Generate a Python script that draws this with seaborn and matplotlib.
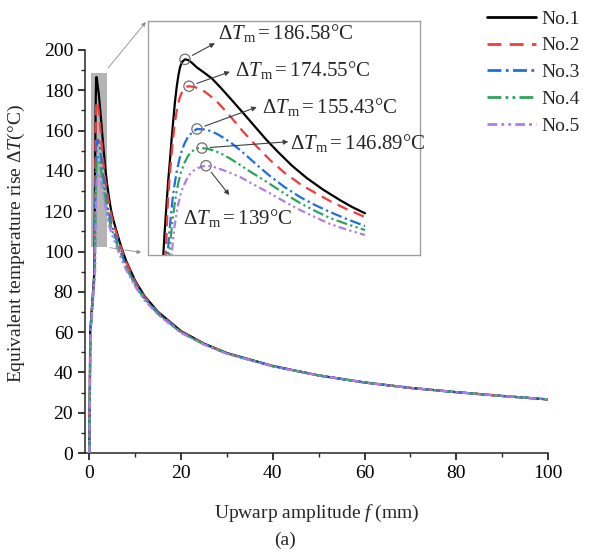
import matplotlib
matplotlib.use("Agg")
import matplotlib.pyplot as plt
from matplotlib.patches import Rectangle, ConnectionPatch
from matplotlib.ticker import MultipleLocator
import pandas as pd
import seaborn as sns

# ---- data: equivalent temperature rise (°C) vs upwarp amplitude f (mm) ----
series = ["No.1", "No.2", "No.3", "No.4", "No.5"]

# values beyond f = 5 mm, where the five cases nearly coincide
f_tail = [6, 7, 8, 10, 12, 15, 20, 25, 30, 40, 50, 60, 70, 80, 90, 100]

f_no1 = [0, 0.20, 1.10, 1.142, 1.17, 1.203, 1.235, 1.270, 1.30, 1.333, 1.365, 1.398, 1.43, 1.461,
         1.50, 1.557, 1.62, 1.69, 1.78, 1.90, 2.067, 2.25, 2.449, 2.67, 2.894, 3.11, 3.339, 3.6,
         3.881, 4.2, 4.517, 4.75, 4.995]
t_no1 = [0, 60, 90, 99.06, 110.0, 121.42, 132.0, 141.55, 150.5, 159.43, 167.5, 174.19, 179.3, 183.0,
         185.4, 186.58, 186.2, 185.0, 183.0, 181.0, 178.08, 173.6, 168.38, 162.5, 156.44, 150.6, 145.0,
         139.0, 133.5, 128.2, 123.6, 120.5, 117.71]
t_no1_tail = [109.5, 102.0, 95.5, 85.5, 78.0, 70.0, 60.5, 54.3, 49.6, 43.2, 38.5, 35.0, 32.3, 30.2, 28.3, 26.6]

f_no2 = [0, 0.22, 1.15, 1.188, 1.21, 1.232, 1.27, 1.308, 1.345, 1.385, 1.42, 1.461, 1.50, 1.538,
         1.585, 1.633, 1.74, 1.843, 1.94, 2.034, 2.15, 2.258, 2.45, 2.640, 2.91, 3.180, 3.46, 3.753,
         4.04, 4.326, 4.66, 4.995]
t_no2 = [0, 60, 90, 99.06, 112.0, 123.66, 136.0, 146.02, 154.8, 161.67, 166.3, 169.72, 171.9, 173.30,
         174.2, 174.55, 174.2, 173.30, 172.0, 170.3, 168.0, 165.38, 160.3, 154.96, 148.0, 141.55, 135.8,
         130.81, 126.9, 123.2, 119.4, 116.06]
t_no2_tail = [108.4, 101.1, 94.8, 85.0, 77.6, 69.7, 60.3, 54.2, 49.5, 43.1, 38.5, 35.0, 32.3, 30.2, 28.3, 26.6]

f_no3 = [0, 0.24, 1.19, 1.226, 1.245, 1.270, 1.30, 1.328, 1.365, 1.404, 1.45, 1.499, 1.555, 1.614,
         1.70, 1.786, 1.91, 2.034, 2.16, 2.283, 2.45, 2.607, 2.77, 2.926, 3.18, 3.46, 3.753, 4.04,
         4.326, 4.66, 4.995]
t_no3 = [0, 60, 90, 99.06, 105.5, 112.48, 119.5, 125.89, 131.8, 137.07, 141.9, 146.02, 149.3, 151.83,
         154.1, 155.43, 155.25, 154.6, 153.3, 151.6, 149.0, 146.0, 142.7, 139.4, 134.39, 129.4, 125.0,
         121.4, 118.29, 115.0, 112.03]
t_no3_tail = [105.2, 98.8, 93.0, 83.9, 76.8, 69.2, 60.0, 54.0, 49.4, 43.1, 38.5, 35.0, 32.3, 30.2, 28.3, 26.6]

f_no4 = [0, 0.26, 1.22, 1.257, 1.28, 1.308, 1.345, 1.385, 1.43, 1.480, 1.545, 1.614, 1.68, 1.748,
         1.815, 1.881, 2.0, 2.13, 2.27, 2.416, 2.6, 2.798, 2.99, 3.18, 3.46, 3.753, 4.04, 4.326,
         4.66, 4.995]
t_no4 = [0, 60, 90, 99.06, 105.5, 112.48, 119.5, 125.89, 131.5, 136.18, 140.2, 143.34, 145.2, 146.4,
         146.85, 146.89, 146.5, 145.6, 144.1, 142.2, 139.5, 136.4, 133.6, 130.8, 126.5, 122.32, 118.8,
         115.61, 112.8, 110.24]
t_no4_tail = [103.8, 97.6, 92.1, 83.3, 76.4, 68.9, 59.8, 53.9, 49.3, 43.0, 38.5, 35.0, 32.3, 30.2, 28.3, 26.6]

f_no5 = [0, 0.28, 1.26, 1.303, 1.325, 1.347, 1.385, 1.423, 1.47, 1.519, 1.585, 1.652, 1.73, 1.805,
         1.88, 1.958, 2.09, 2.225, 2.41, 2.607, 2.89, 3.18, 3.46, 3.753, 4.04, 4.326, 4.66, 4.995]
t_no5 = [0, 60, 90, 99.06, 104.8, 110.24, 116.2, 121.42, 125.9, 129.47, 132.7, 135.29, 137.0, 137.97,
         138.6, 139.00, 138.6, 137.52, 135.9, 133.94, 130.3, 126.66, 122.9, 119.19, 116.0, 112.93,
         110.3, 108.01]
t_no5_tail = [102.0, 96.2, 91.0, 82.6, 75.9, 68.6, 59.6, 53.8, 49.2, 43.0, 38.5, 35.0, 32.3, 30.2, 28.3, 26.6]

peak_f = [1.557, 1.633, 1.786, 1.881, 1.958]
peak_t = [186.58, 174.55, 155.43, 146.89, 139.00]
peak_text = ["186.58", "174.55", "155.43", "146.89", "139"]

frames = []
for name, fx, ty, tt in zip(series,
                            [f_no1, f_no2, f_no3, f_no4, f_no5],
                            [t_no1, t_no2, t_no3, t_no4, t_no5],
                            [t_no1_tail, t_no2_tail, t_no3_tail, t_no4_tail, t_no5_tail]):
    frames.append(pd.DataFrame({"f": fx + f_tail, "T": ty + tt, "series": name}))
df = pd.concat(frames, ignore_index=True)

palette = {"No.1": "#000000", "No.2": "#f03c3c", "No.3": "#1f6fe0",
           "No.4": "#2ca55a", "No.5": "#b07ce8"}
dashes = {"No.1": "", "No.2": (5, 3), "No.3": (5, 1.6, 1, 1.6),
          "No.4": (5, 1.5, 1, 1.5, 1, 1.5), "No.5": (3.5, 1.5, 1, 1.5, 1, 1.5)}

# ---- style ----
sns.set_theme(style="ticks")
plt.rcParams["font.family"] = ["Liberation Serif", "DejaVu Serif"]
plt.rcParams["mathtext.fontset"] = "custom"
plt.rcParams["mathtext.rm"] = "Liberation Serif"
plt.rcParams["mathtext.it"] = "Liberation Serif:italic"
plt.rcParams["axes.linewidth"] = 1.1

fig = plt.figure(figsize=(6.02, 5.52), dpi=100)
ax = fig.add_axes([85 / 602, 99 / 552, 463 / 602, 403 / 552])

sns.lineplot(data=df, x="f", y="T", hue="series", style="series", palette=palette,
             dashes=dashes, estimator=None, sort=False, linewidth=1.6, ax=ax, zorder=3)

ax.add_patch(Rectangle((0.3, 102), 3.5, 86.6, facecolor="#b4b4b4", edgecolor="none", zorder=1))

ax.set_xlim(-0.94, 100)
ax.set_ylim(0, 200)
ax.xaxis.set_major_locator(MultipleLocator(20))
ax.xaxis.set_minor_locator(MultipleLocator(10))
ax.yaxis.set_major_locator(MultipleLocator(20))
ax.yaxis.set_minor_locator(MultipleLocator(10))
ax.tick_params(which="major", direction="out", length=5, width=1.1, labelsize=14, colors="black")
ax.tick_params(which="minor", direction="out", length=3, width=1.0)
sns.despine(ax=ax)
ax.set_xlabel("Upwarp amplitude $\\mathit{f}$ (mm)", fontsize=14, labelpad=15)
ax.set_ylabel("Equivalent temperature rise Δ$\\mathit{T}$(°C)", fontsize=14)
ax.yaxis.set_label_coords(-0.125, 0.52)

handles, labels = ax.get_legend_handles_labels()
for h in handles:
    h.set_linewidth(2.0)
ax.legend(handles, labels, loc="upper left", bbox_to_anchor=(487 / 602, 1 - 10 / 552),
          bbox_transform=fig.transFigure, frameon=False, fontsize=14, handlelength=2.5,
          handletextpad=0.3, labelspacing=0.47, borderpad=0, borderaxespad=0)

fig.text(285 / 602, 1 - 540 / 552, "(a)", ha="center", va="center", fontsize=14)

# ---- zoomed inset around the peaks ----
axi = fig.add_axes([148 / 602, 297 / 552, 272 / 602, 234 / 552])
sub = df[df["f"] <= 5.0]
sns.lineplot(data=sub, x="f", y="T", hue="series", style="series", palette=palette,
             dashes=dashes, estimator=None, sort=False, linewidth=1.6, ax=axi, legend=False)
axi.set_xlim(0.85, 6.045)
axi.set_ylim(99.06, 203.71)
axi.set_xticks([])
axi.set_yticks([])
axi.set_xlabel("")
axi.set_ylabel("")
for s in axi.spines.values():
    s.set_color("#a0a0a0")
    s.set_linewidth(1.0)

axi.scatter(peak_f, peak_t, s=55, facecolors="none", edgecolors="#707070", linewidths=0.9, zorder=5)

text_pos = [(0.258, 0.947), (0.320, 0.791), (0.418, 0.634), (0.522, 0.477), (0.130, 0.157)]
arrow_head = [(0.246, 0.905), (0.301, 0.783), (0.400, 0.632), (0.516, 0.484), (0.299, 0.256)]
for pf, pt, txt, tp, ah in zip(peak_f, peak_t, peak_text, text_pos, arrow_head):
    axi.annotate("", xy=ah, xycoords="axes fraction", xytext=(pf, pt), textcoords="data",
                 arrowprops=dict(arrowstyle="-|>", color="#404040", lw=0.8,
                                 mutation_scale=7, shrinkA=6, shrinkB=0))
    axi.text(tp[0], tp[1], "$\\mathit{ΔT}_{\\mathrm{m}}=\\mathrm{" + txt + "°C}$",
             transform=axi.transAxes, ha="left", va="center", fontsize=15)

# guide lines from the shaded window to the inset
for corner_a, corner_b in [((3.9, 190.5), (-0.005, 1.0)), ((4.2, 102), (-0.02, 0.01))]:
    con = ConnectionPatch(xyA=corner_a, coordsA=ax.transData, xyB=corner_b, coordsB=axi.transAxes,
                          arrowstyle="-|>", color="#8c8c8c", lw=0.6, mutation_scale=6,
                          shrinkA=1, shrinkB=1)
    fig.add_artist(con)

fig.savefig("out.png", dpi=100)
